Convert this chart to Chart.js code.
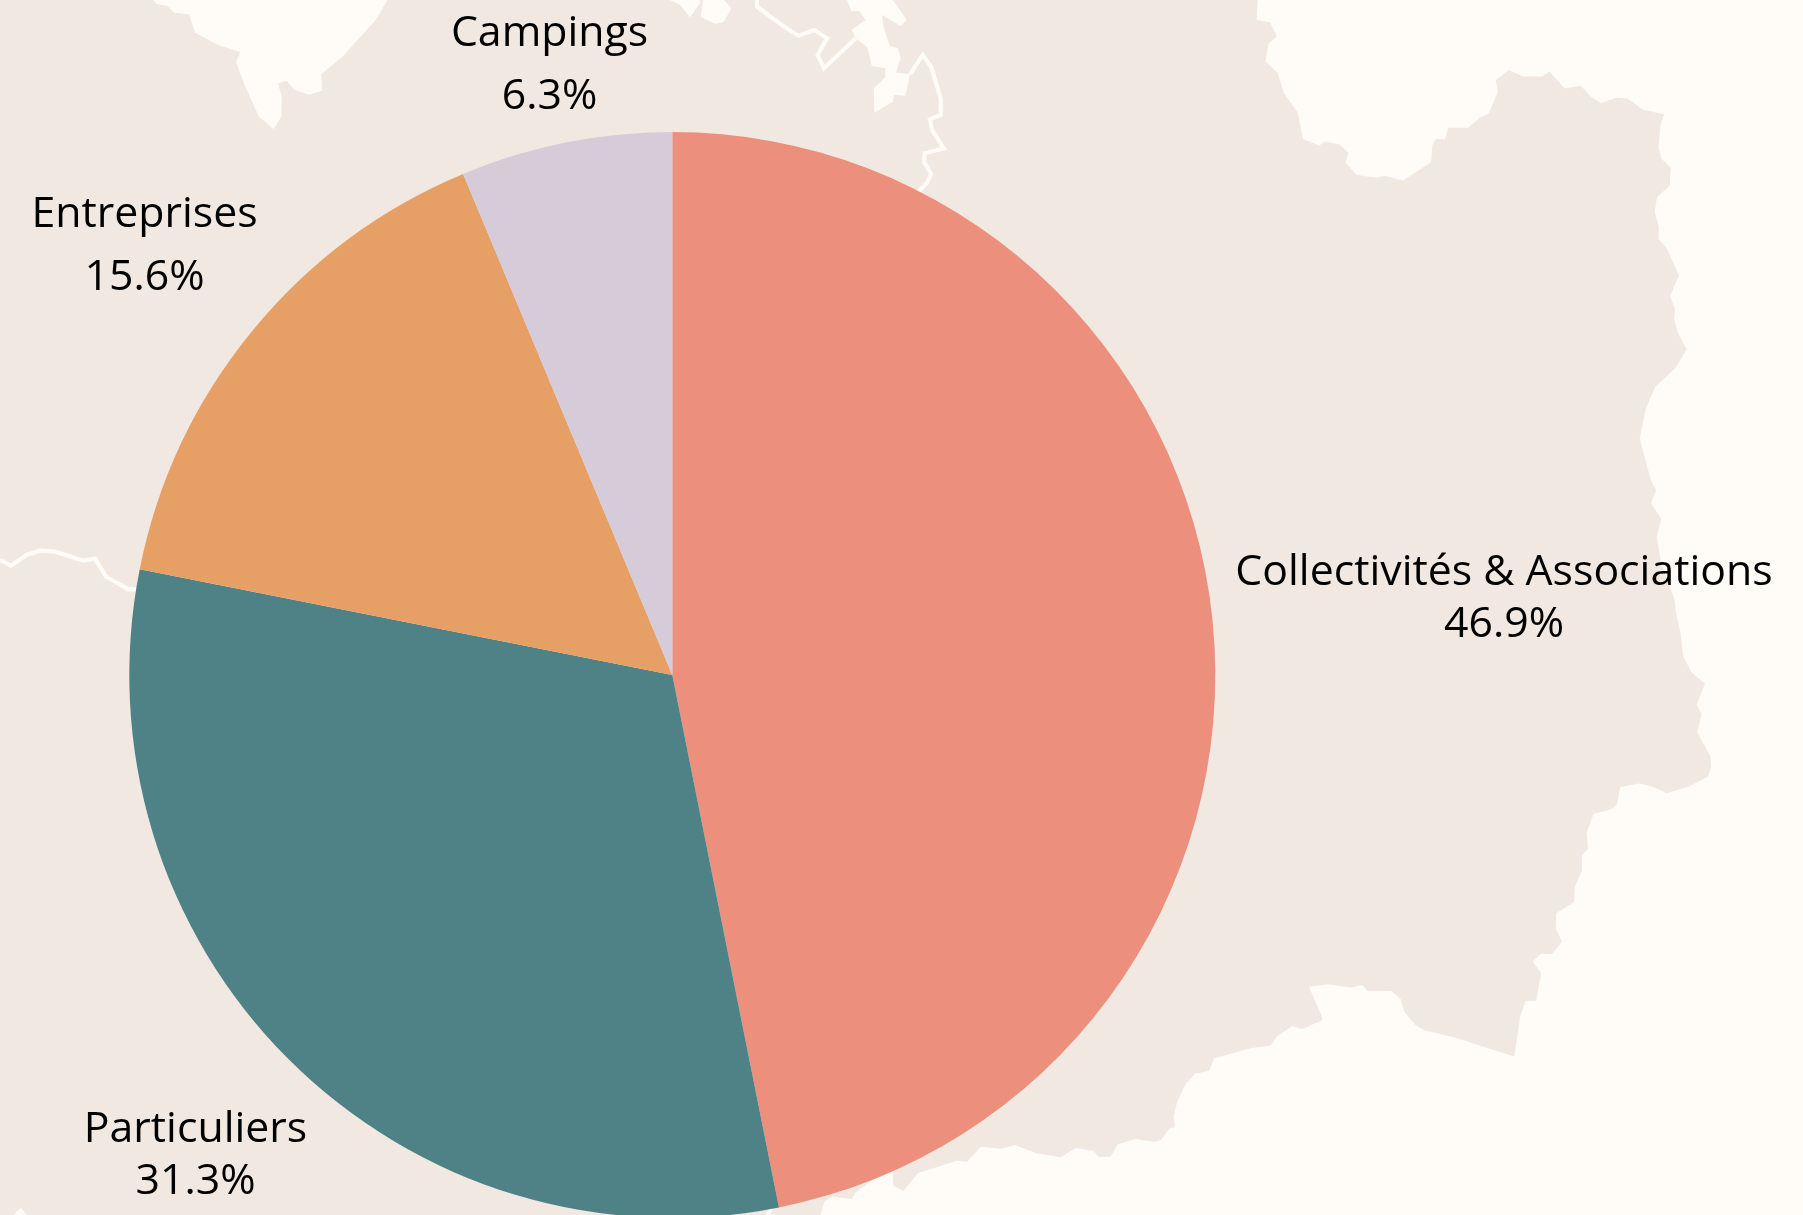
<!DOCTYPE html>
<html lang="fr">
<head>
<meta charset="utf-8">
<style>
html,body{margin:0;padding:0;width:1803px;height:1215px;overflow:hidden;background:#fffbf6}
#wrap{position:absolute;left:0;top:0;width:1803px;height:1350px}
</style>
<script src="https://cdn.jsdelivr.net/npm/chart.js@4"></script>
</head>
<body>
<div id="wrap"><canvas id="c" width="1803" height="1350"></canvas></div>
<script>
// Chart data
const categories = ["Collectivités & Associations", "Particuliers", "Entreprises", "Campings"];
const shares = [46.9, 31.3, 15.6, 6.3];
const sliceColours = ["#ec8f7c", "#4e8286", "#e6a066", "#d6cbd9"];

// Label anchors: [x, first line y, second line y]
const labelAnchors = [
  [1504, 572.5, 624.5],
  [195.5, 1129.5, 1182],
  [144.5, 215, 278],
  [549.5, 34, 97]
];

// Decorative map outline
const LAND = "#f0e8e1", SEA = "#fffbf6";
const fromTop = p => p.map(([x, y]) => [x / 1.568, y / 3]);
const fromNE = p => p.map(([x, y]) => [1200 + x / 2.6, y / 2.6]);
const fromSE = p => p.map(([x, y]) => [1200 + x / 2.6, 600 + y / 2.55]);
const fromS = p => p.map(([x, y]) => [750 + x / 2.613, 1000 + y / 3]);
const fromW = p => p.map(([x, y]) => [x / 3, 500 + y / 3]);

const seaEast = [
  ...fromNE([[150,0],[147,52],[182,58],[200,95],[178,113],[170,160],[202,190],[218,242],[254,293],[268,362],[310,378],[326,368],[362,375],[386,397],[378,422],[407,455],[460,462],[482,457],[527,470],[601,422],[604,378],[613,361],[637,363],[645,332],[697,332],[730,305],[751,295],[774,240],[769,208],[803,182],[840,199],[890,199],[908,186],[948,230],[990,223],[1018,253],[1043,268],[1082,254],[1111,256],[1153,286],[1207,297],[1197,325],[1192,385],[1200,413],[1224,437],[1221,483],[1188,513],[1182,550],[1193,590],[1192,620],[1216,650],[1245,716],[1222,770],[1235,803],[1233,830],[1242,865],[1265,908],[1235,958],[1184,1005],[1159,1062],[1143,1140],[1172,1248],[1186,1276],[1172,1308],[1199,1348],[1188,1397],[1198,1460]]),
  ...fromSE([[1234,0],[1237,30],[1250,88],[1256,143],[1278,185],[1313,213],[1291,267],[1304,291],[1293,337],[1326,397],[1329,423],[1321,450],[1270,476],[1214,492],[1171,474],[1142,468],[1092,477],[1085,520],[1070,533],[1023,546],[1005,595],[1009,635],[993,650],[993,690],[974,733],[972,771],[926,799],[926,840],[941,871],[915,903],[885,903],[865,922],[887,952],[874,1022],[846,1023],[833,1060],[817,1164],[660,1115],[583,1097],[562,1085],[531,1050],[522,1018],[498,997],[437,998],[421,982],[395,988],[331,980],[283,986],[318,1065],[316,1072],[266,1094],[240,1086],[201,1112],[184,1136],[131,1143],[36,1169],[25,1199]]),
  ...fromS([[1213,175],[1200,212],[1162,221],[1138,252],[1115,310],[1107,352],[1110,382],[1096,385],[1074,420],[1057,425],[1007,417],[961,433],[942,470],[912,471],[899,453],[851,444],[812,472],[746,459],[693,435],[656,446],[603,440],[567,485],[541,482],[439,519],[401,572],[374,557],[374,515],[320,540],[275,578],[266,597],[216,590],[195,603],[184,645]]),
  [820,1350],[1803,1350],[1803,0]
];
const seaNorthWest = fromTop([[240,0],[245,12],[262,17],[273,38],[296,43],[306,98],[342,135],[377,156],[370,187],[385,262],[406,350],[429,387],[441,350],[442,293],[436,250],[449,242],[462,270],[485,284],[505,272],[504,222],[537,170],[588,62],[608,0]]);
const seaA = fromTop([[1050,0],[1066,14],[1082,52],[1098,8],[1098,0]]);
const seaB = fromTop([[1102,0],[1099,52],[1122,72],[1135,66],[1147,24],[1135,0]]);
const seaC = fromTop([[1328,0],[1335,33],[1347,33],[1357,60],[1335,90],[1342,115],[1360,142],[1367,198],[1388,205],[1388,232],[1370,265],[1371,338],[1400,305],[1402,285],[1420,287],[1427,222],[1405,218],[1412,175],[1408,145],[1395,138],[1385,78],[1383,45],[1412,78],[1422,60],[1400,0]]);
const seaSW = [[13,1215],[20.7,1208],[27,1215]];
const borderN = fromTop([[1187,0],[1187,20],[1228,78],[1252,107],[1277,90],[1297,115],[1282,165],[1292,205],[1342,115]]);
const borderNE = fromTop([[1427,222],[1447,165],[1460,200],[1475,295],[1475,345],[1458,358],[1462,392],[1480,445],[1450,460],[1449,485],[1460,522],[1453,550],[1435,585]]);
const borderW = fromW([[0,180],[33,197],[80,165],[120,152],[165,155],[250,182],[285,176],[318,230],[385,268],[420,268]]);
const borderS = [[772,1205],[767,1218]];

const mapPlugin = {
  id: "mapBackdrop",
  beforeDraw(chart) {
    const ctx = chart.ctx;
    const trace = p => { ctx.beginPath(); p.forEach(([x, y], i) => i ? ctx.lineTo(x, y) : ctx.moveTo(x, y)); };
    ctx.save();
    ctx.fillStyle = LAND;
    ctx.fillRect(0, 0, chart.width, chart.height);
    ctx.fillStyle = SEA;
    [seaEast, seaNorthWest, seaA, seaB, seaC, seaSW].forEach(p => { trace(p); ctx.closePath(); ctx.fill(); });
    ctx.strokeStyle = SEA;
    ctx.lineWidth = 4.2;
    ctx.lineJoin = "miter";
    [borderN, borderNE, borderW, borderS].forEach(p => { trace(p); ctx.stroke(); });
    ctx.restore();
  }
};

const labelPlugin = {
  id: "sliceLabels",
  afterDraw(chart) {
    const ctx = chart.ctx;
    ctx.save();
    ctx.font = '42.8px "Open Sans"';
    ctx.fillStyle = "#000000";
    ctx.textAlign = "center";
    ctx.textBaseline = "middle";
    categories.forEach((name, i) => {
      const [x, y1, y2] = labelAnchors[i];
      ctx.fillText(name, x, y1);
      ctx.fillText(shares[i].toFixed(1) + "%", x, y2);
    });
    ctx.restore();
  }
};

new Chart(document.getElementById("c"), {
  type: "pie",
  data: {
    labels: categories,
    datasets: [{ data: shares, backgroundColor: sliceColours, borderWidth: 0 }]
  },
  options: {
    responsive: false,
    animation: false,
    layout: { padding: { top: 132, bottom: 132, left: 0, right: 458.4 } },
    plugins: { legend: { display: false }, tooltip: { enabled: false } }
  },
  plugins: [mapPlugin, labelPlugin]
});
</script>
</body>
</html>
